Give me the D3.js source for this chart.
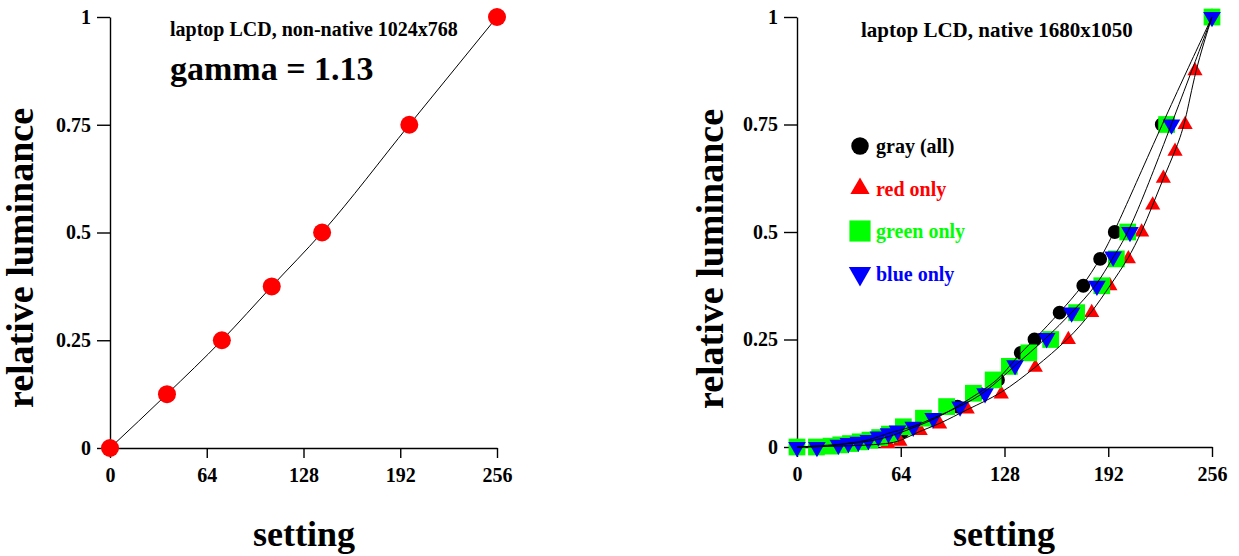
<!DOCTYPE html>
<html>
<head>
<meta charset="utf-8">
<script src="https://cdn.jsdelivr.net/npm/d3@7"></script>
<style>
body { margin: 0; background: #fff; }
text { font-family: "Liberation Serif", "Times New Roman", serif; font-weight: bold; }
</style>
</head>
<body>
<svg width="1239" height="556"></svg>
<script>
// tick values shared by both panels
const xTicks = [0, 64, 128, 192, 256];
const yTicks = [0, 0.25, 0.5, 0.75, 1];

// left panel: laptop LCD at non-native 1024x768
const lcdSetting = [0, 37.7, 74, 107, 140.3, 198, 256];
const lcdLum = [0, 0.125, 0.25, 0.375, 0.5, 0.75, 1];

// right panel: laptop LCD at native 1680x1050
const graySetting = [0, 37, 54, 65, 84, 99, 112, 124, 131, 138, 146.5, 162, 176.6, 187, 196, 225, 256];
const grayLum = [0, 0.008, 0.02, 0.035, 0.0625, 0.094, 0.125, 0.156, 0.1875, 0.219, 0.25, 0.3125, 0.375, 0.4375, 0.5, 0.75, 1];

const redSetting = [0, 40, 56, 63.5, 76, 88, 105, 126, 147, 167.4, 181.8, 193, 204.4, 212.6, 219.4, 226, 233.2, 239.4, 245.5, 256];
const redLum = [0, 0.003, 0.008, 0.013, 0.038, 0.053, 0.088, 0.123, 0.185, 0.25, 0.3125, 0.375, 0.4375, 0.5, 0.5625, 0.625, 0.6875, 0.75, 0.875, 1];

const greenSetting = [0, 12, 21, 27, 33, 39, 45, 51, 57, 65.6, 78, 92.3, 108.8, 121, 131, 143, 156.5, 172.5, 188, 197, 204, 228, 256];
const greenLum = [0, 0, 0.002, 0.005, 0.008, 0.012, 0.016, 0.022, 0.03, 0.047, 0.067, 0.094, 0.125, 0.156, 0.1875, 0.219, 0.25, 0.3125, 0.375, 0.4375, 0.5, 0.75, 1];

const blueSetting = [0, 12.3, 25.5, 31.7, 37.8, 44, 50.2, 56.4, 62, 71.7, 84, 100.6, 116, 134.5, 154, 169.4, 185, 195, 205.4, 231, 256];
const blueLum = [0, 0, 0.005, 0.009, 0.012, 0.016, 0.024, 0.032, 0.038, 0.047, 0.067, 0.094, 0.125, 0.19, 0.253, 0.3125, 0.375, 0.443, 0.5, 0.75, 1];

const legendLabels = ["gray (all)", "red only", "green only", "blue only"];

const svg = d3.select("svg");

function pts(xs, ys) { return xs.map((x, i) => [x, ys[i]]); }

function drawAxes(g, x, y) {
  const xa = g.append("g")
      .attr("transform", `translate(0,${y(0)})`)
      .call(d3.axisBottom(x).tickValues(xTicks).tickSize(10).tickSizeOuter(0).tickPadding(10));
  const ya = g.append("g")
      .attr("transform", `translate(${x(0)},0)`)
      .call(d3.axisLeft(y).tickValues(yTicks).tickSize(13).tickSizeOuter(0).tickPadding(6)
        .tickFormat(d3.format("")));
  [xa, ya].forEach(a => {
    a.selectAll("path, line").attr("stroke", "#000").attr("stroke-width", 1.4);
    a.selectAll("text").attr("fill", "#000").style("font-size", "20px").attr("font-family", null);
  });
}

function axisTitles(g, yx, ycy, sx, sy) {
  g.append("text")
      .attr("transform", `translate(${yx},${ycy}) rotate(-90)`)
      .attr("text-anchor", "middle")
      .style("font-size", "38px")
      .text("relative luminance");
  g.append("text")
      .attr("x", sx).attr("y", sy)
      .attr("text-anchor", "middle")
      .style("font-size", "36px")
      .text("setting");
}

// ---------- left panel ----------
const xL = d3.scaleLinear().domain([0, 256]).range([110, 497]);
const yL = d3.scaleLinear().domain([0, 1]).range([448, 17]);
const left = svg.append("g");
drawAxes(left, xL, yL);
axisTitles(left, 33, 258, 304, 546);

left.append("path")
    .datum(pts(lcdSetting, lcdLum))
    .attr("fill", "none").attr("stroke", "#000").attr("stroke-width", 1)
    .attr("d", d3.line().x(d => xL(d[0])).y(d => yL(d[1])).curve(d3.curveMonotoneX));

left.selectAll("circle.pt")
  .data(pts(lcdSetting, lcdLum))
  .join("circle")
    .attr("class", "pt")
    .attr("cx", d => xL(d[0])).attr("cy", d => yL(d[1]))
    .attr("r", 9).attr("fill", "#ff0000");

left.append("text").attr("x", 170).attr("y", 36).style("font-size", "20px")
    .text("laptop LCD, non-native 1024x768");
left.append("text").attr("x", 170).attr("y", 80).style("font-size", "34px")
    .text("gamma = 1.13");

// ---------- right panel ----------
const xR = d3.scaleLinear().domain([0, 256]).range([797, 1212]);
const yR = d3.scaleLinear().domain([0, 1]).range([447, 17]);
const right = svg.append("g");
drawAxes(right, xR, yR);
axisTitles(right, 723, 259, 1004, 546);

const series = [
  { xs: graySetting, ys: grayLum, color: "#000000", sym: d3.symbolCircle, size: 150, rot: 0 },
  { xs: redSetting, ys: redLum, color: "#ff0000", sym: d3.symbolTriangle, size: 100, rot: 0 },
  { xs: greenSetting, ys: greenLum, color: "#00ff00", sym: d3.symbolSquare, size: 280, rot: 0 },
  { xs: blueSetting, ys: blueLum, color: "#0000ff", sym: d3.symbolTriangle, size: 135, rot: 180 }
];

series.forEach(s => {
  right.append("g").selectAll("path")
    .data(pts(s.xs, s.ys))
    .join("path")
      .attr("transform", d => `translate(${xR(d[0])},${yR(d[1])}) rotate(${s.rot})`)
      .attr("d", d3.symbol().type(s.sym).size(s.size))
      .attr("fill", s.color);
});

const fitLine = d3.line().x(d => xR(d[0])).y(d => yR(d[1])).curve(d3.curveBasis);
[series[0], series[1], series[3]].forEach(s => {
  right.append("path")
      .datum(pts(s.xs, s.ys))
      .attr("fill", "none").attr("stroke", "#000").attr("stroke-width", 1)
      .attr("d", fitLine);
});

right.append("text").attr("x", 861).attr("y", 37).style("font-size", "21px")
    .text("laptop LCD, native 1680x1050");

// legend
const legend = right.append("g");
series.forEach((s, i) => {
  const cy = 146 + i * 42.5;
  legend.append("path")
      .attr("transform", `translate(860,${cy}) rotate(${s.rot})`)
      .attr("d", d3.symbol().type(s.sym).size(s.size * 1.6))
      .attr("fill", s.color);
  legend.append("text")
      .attr("x", 876).attr("y", cy + 7)
      .style("font-size", "20px")
      .attr("fill", s.color)
      .text(legendLabels[i]);
});
</script>
</body>
</html>
